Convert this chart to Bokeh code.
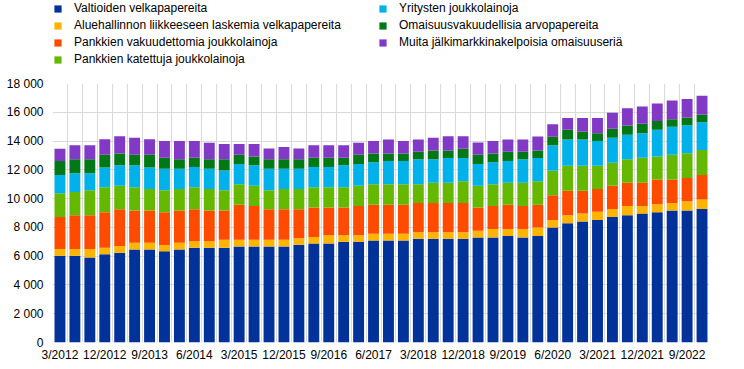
from bokeh.plotting import figure
from bokeh.layouts import column
from bokeh.models import FixedTicker, Legend, LegendItem, Range1d, ColumnDataSource
from bokeh.embed import file_html
from bokeh.resources import INLINE

quarters = ["3/2012", "6/2012", "9/2012", "12/2012", "3/2013", "6/2013", "9/2013", "12/2013",
            "3/2014", "6/2014", "9/2014", "12/2014", "3/2015", "6/2015", "9/2015", "12/2015",
            "3/2016", "6/2016", "9/2016", "12/2016", "3/2017", "6/2017", "9/2017", "12/2017",
            "3/2018", "6/2018", "9/2018", "12/2018", "3/2019", "6/2019", "9/2019", "12/2019",
            "3/2020", "6/2020", "9/2020", "12/2020", "3/2021", "6/2021", "9/2021", "12/2021",
            "3/2022", "6/2022", "9/2022", "12/2022"]

valtioiden = [6030, 6030, 5910, 6140, 6240, 6470, 6470, 6350, 6470, 6580,
              6580, 6580, 6670, 6670, 6670, 6670, 6790, 6880, 6880, 7000,
              7000, 7090, 7090, 7090, 7210, 7210, 7210, 7210, 7300, 7300,
              7410, 7300, 7410, 7990, 8290, 8410, 8520, 8730, 8850, 8960,
              9050, 9170, 9170, 9280]
aluehallinnon = [460, 460, 580, 440, 460, 460, 460, 420, 460, 460,
                 460, 560, 470, 470, 470, 470, 460, 460, 580, 460,
                 460, 460, 460, 460, 460, 460, 460, 460, 460, 580,
                 470, 580, 580, 530, 560, 550, 560, 550, 640, 530,
                 560, 530, 650, 650]
vakuudettomia = [2240, 2360, 2360, 2470, 2560, 2240, 2240, 2280, 2240, 2220,
                 2130, 2030, 2440, 2350, 2120, 2120, 2010, 2040, 1920, 1920,
                 2030, 2030, 2030, 2030, 2030, 2030, 2030, 2030, 1620, 1610,
                 1700, 1610, 1590, 1710, 1700, 1590, 1590, 1620, 1620, 1620,
                 1710, 1620, 1610, 1710]
katettuja = [1640, 1610, 1730, 1740, 1640, 1620, 1500, 1530, 1500, 1530,
             1500, 1410, 1410, 1410, 1320, 1410, 1410, 1410, 1410, 1410,
             1410, 1410, 1410, 1410, 1290, 1410, 1410, 1500, 1520, 1500,
             1530, 1620, 1620, 1710, 1740, 1740, 1620, 1590, 1620, 1730,
             1610, 1730, 1730, 1730]
yritysten = [1270, 1300, 1180, 1380, 1410, 1520, 1500, 1500, 1410, 1400,
             1410, 1380, 1410, 1410, 1500, 1410, 1410, 1400, 1400, 1520,
             1500, 1530, 1620, 1620, 1740, 1620, 1710, 1620, 1500, 1530,
             1500, 1620, 1620, 1760, 1820, 1820, 1710, 1740, 1700, 1710,
             1850, 1940, 1940, 1940]
omaisuusvakuudellisia = [970, 970, 970, 880, 830, 740, 880, 760, 650, 650,
                         650, 770, 650, 620, 650, 650, 650, 650, 650, 530,
                         650, 620, 530, 530, 530, 620, 530, 640, 650, 620,
                         650, 530, 530, 600, 670, 560, 550, 620, 650, 650,
                         620, 530, 540, 530]
muita = [850, 970, 970, 1080, 1200, 1180, 1080, 1160, 1270, 1160,
         1150, 1060, 740, 860, 760, 850, 760, 860, 860, 860,
         830, 860, 970, 860, 850, 880, 990, 880, 850, 860,
         850, 850, 970, 870, 830, 940, 1060, 1110, 1200, 1200,
         1210, 1290, 1290, 1300]

series_names = ["Valtioiden velkapapereita",
                "Aluehallinnon liikkeeseen laskemia velkapapereita",
                "Pankkien vakuudettomia joukkolainoja",
                "Pankkien katettuja joukkolainoja",
                "Yritysten joukkolainoja",
                "Omaisuusvakuudellisia arvopapereita",
                "Muita jälkimarkkinakelpoisia omaisuuseriä"]
colors = ["#003299", "#FFB400", "#FF4B00", "#65B800", "#00B1EA", "#007816", "#8139C6"]
keys = ["s0", "s1", "s2", "s3", "s4", "s5", "s6"]
y_ticks = [0, 2000, 4000, 6000, 8000, 10000, 12000, 14000, 16000, 18000]

font = "Liberation Sans"
W = 744
H = 369
LEG_H = 70

source = ColumnDataSource(data=dict(
    x=list(range(len(quarters))),
    s0=valtioiden, s1=aluehallinnon, s2=vakuudettomia, s3=katettuja,
    s4=yritysten, s5=omaisuusvakuudellisia, s6=muita))

# ---- main chart ----
p = figure(width=W, height=H - LEG_H, output_backend="svg", toolbar_location=None,
           x_range=Range1d(-0.5, len(quarters) - 0.5), y_range=Range1d(0, 18000),
           min_border_left=52, min_border_right=35, min_border_top=83 - LEG_H,
           min_border_bottom=27)
p.outline_line_color = None

rs = p.vbar_stack(keys, x="x", width=0.73, source=source,
                  fill_color=colors, line_color=None)

for ax in (p.xaxis, p.yaxis):
    ax.axis_line_color = None
    ax.major_tick_line_color = None
    ax.minor_tick_line_color = None
    ax.major_tick_out = 0
    ax.major_tick_in = 0
    ax.minor_tick_out = 0
    ax.minor_tick_in = 0
    ax.major_label_text_font = font
    ax.major_label_text_font_size = "12px"
    ax.major_label_text_color = "#000000"

xt = list(range(0, len(quarters), 3))
p.xaxis.ticker = FixedTicker(ticks=xt)
p.xaxis.major_label_overrides = {i: quarters[i] for i in xt}
p.xaxis.major_label_standoff = 5
p.yaxis.ticker = FixedTicker(ticks=y_ticks)
p.yaxis.major_label_overrides = {v: f"{v:,}".replace(",", " ") for v in y_ticks}
p.yaxis.major_label_standoff = 9

p.xgrid.ticker = FixedTicker(ticks=[i - 0.5 for i in range(len(quarters) + 1)])
p.xgrid.grid_line_color = "#d9d9d9"
p.ygrid.grid_line_color = "#d9d9d9"

# ---- legend strip (zero-height swatch renderers, visible only in the legend) ----
lg = figure(width=W, height=LEG_H, output_backend="svg", toolbar_location=None,
            x_range=Range1d(0, 1), y_range=Range1d(0, 1),
            x_axis_type=None, y_axis_type=None,
            min_border_left=0, min_border_right=0, min_border_top=0, min_border_bottom=0)
lg.outline_line_color = None
lg.grid.visible = False
dummy = [lg.vbar(x=[-5], top=[-5], bottom=[-5], width=0.0, fill_color=c, line_color=None)
         for c in colors]


def make_legend(idx, loc):
    return Legend(items=[LegendItem(label=series_names[i], renderers=[dummy[i]]) for i in idx],
                  location=loc, orientation="vertical",
                  glyph_width=9, glyph_height=9, label_standoff=12,
                  label_height=16, spacing=1, padding=0, margin=0,
                  border_line_color=None, background_fill_alpha=0,
                  label_text_font=font, label_text_font_size="12px",
                  label_text_color="#000000")


# (x, y): bottom-left corner of each legend block, relative to the strip's (frame-aligned) area
lg.add_layout(make_legend([0, 1, 2, 3], (1, 3)))
lg.add_layout(make_legend([4, 5, 6], (326, 20)))

open("out.html", "w").write(file_html(column(lg, p, spacing=0), INLINE))
